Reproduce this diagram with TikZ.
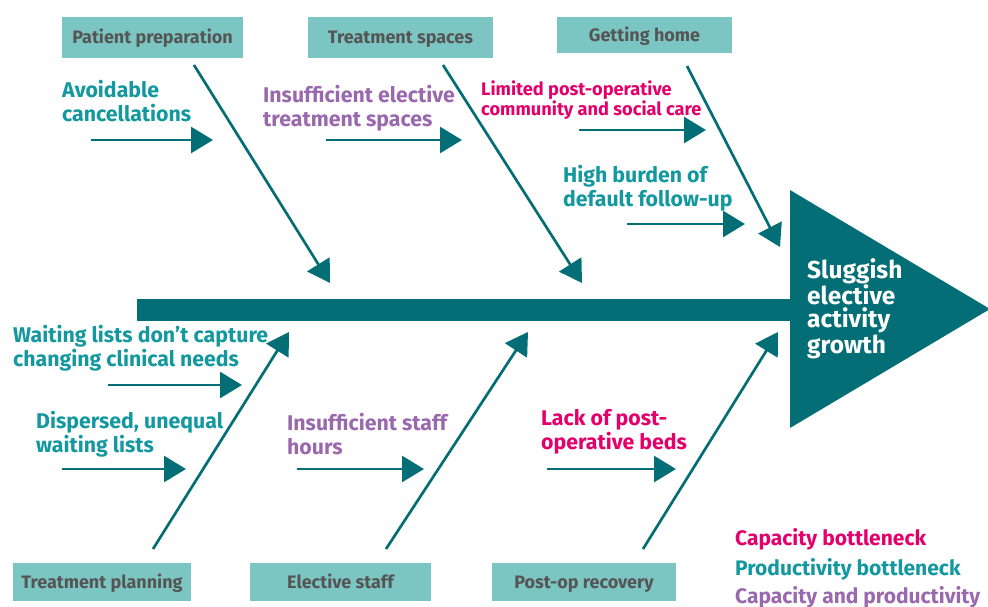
\documentclass[tikz,border=0pt]{standalone}
\usepackage{fontspec}
\setmainfont{Fira Sans}
\usetikzlibrary{arrows.meta}
\definecolor{dteal}{HTML}{036E75}
\definecolor{prod}{HTML}{12989E}
\definecolor{capc}{HTML}{E4006B}
\definecolor{both}{HTML}{9A68AD}
\definecolor{boxfill}{HTML}{7BC6C2}
\definecolor{boxtext}{HTML}{555555}
\begin{document}
\begin{tikzpicture}[x=1pt,y=-1pt,
 catbox/.style={fill=boxfill, inner sep=0, text=boxtext, text height=12.4pt, text depth=0pt, font=\fontsize{18}{20}\selectfont\bfseries},
 arr/.style={draw=dteal, line width=2.7pt, -{Triangle[length=22pt,width=26pt]}},
 lbl/.style={anchor=base west, inner sep=0, align=left, font=\fontsize{21.3}{24}\selectfont\bfseries},
 small/.style={font=\fontsize{18.2}{20}\selectfont\bfseries},
 leg/.style={anchor=base west, inner sep=0, font=\fontsize{21}{24}\selectfont\bfseries},
]
\useasboundingbox (0,0) rectangle (988,606);
% spine and head
\fill[dteal] (137,299) rectangle (792,321);
\fill[dteal] (790,190) -- (990,309) -- (790,428) -- cycle;
\node[anchor=base west, inner sep=0, align=left, text=white, font=\fontsize{24.5}{23.5}\selectfont\bfseries] (head) at (807,353) {Sluggish\\elective\\activity\\growth};
% category boxes
\node[catbox, minimum width=181, minimum height=41] (pp) at (152.5,37.5) {Patient preparation};
\node[catbox, minimum width=185, minimum height=41] (ts) at (400.5,37.5) {Treatment spaces};
\node[catbox, minimum width=175, minimum height=36] (gh) at (644.5,35) {Getting home};
\node[catbox, minimum width=178, minimum height=38] (tp) at (102,582) {Treatment planning};
\node[catbox, minimum width=181, minimum height=38] (es) at (340.5,582) {Elective staff};
\node[catbox, minimum width=184, minimum height=38] (pr) at (584,582) {Post-op recovery};
% bone coordinates
\coordinate (pps) at (194,65);  \coordinate (ppe) at (330,283);
\coordinate (tss) at (443,65);  \coordinate (tse) at (582,283);
\coordinate (ghs) at (687,66);  \coordinate (ghe) at (780,247);
\coordinate (tps) at (153,549); \coordinate (tpe) at (289,332);
\coordinate (ess) at (386,549); \coordinate (ese) at (528,332);
\coordinate (prs) at (643,549); \coordinate (pre) at (778,332);
\draw[arr] (pps) -- (ppe);
\draw[arr] (tss) -- (tse);
\draw[arr] (ghs) -- (ghe);
\draw[arr] (tps) -- (tpe);
\draw[arr] (ess) -- (ese);
\draw[arr] (prs) -- (pre);
% cause labels (anchor = baseline of last line)
\node[lbl, text=prod] (l1) at (62,121) {Avoidable\\cancellations};
\node[lbl, text=both] (l2) at (263,126) {Insufficient elective\\treatment spaces};
\node[lbl, text=capc, small] (l3) at (481,115) {Limited post-operative\\community and social care};
\node[lbl, text=prod] (l4) at (563,206) {High burden of\\default follow-up};
\node[lbl, text=prod] (l5) at (13,366) {Waiting lists don’t capture\\changing clinical needs};
\node[lbl, text=prod] (l6) at (36,452) {Dispersed, unequal\\waiting lists};
\node[lbl, text=both] (l7) at (287,454) {Insufficient staff\\hours};
\node[lbl, text=capc] (l8) at (541,449) {Lack of post-\\operative beds};
% horizontal arrows
\coordinate (a1s) at (91,140);  \coordinate (a1e) at (213,140);
\coordinate (a2s) at (326,140); \coordinate (a2e) at (462,140);
\coordinate (a3s) at (579,130); \coordinate (a3e) at (706,130);
\coordinate (a4s) at (627,224); \coordinate (a4e) at (745,224);
\coordinate (a5s) at (108,385); \coordinate (a5e) at (242,385);
\coordinate (a6s) at (62,469);  \coordinate (a6e) at (186,469);
\coordinate (a7s) at (297,469); \coordinate (a7e) at (424,469);
\coordinate (a8s) at (547,469); \coordinate (a8e) at (676,469);
\draw[arr] (a1s) -- (a1e);
\draw[arr] (a2s) -- (a2e);
\draw[arr] (a3s) -- (a3e);
\draw[arr] (a4s) -- (a4e);
\draw[arr] (a5s) -- (a5e);
\draw[arr] (a6s) -- (a6e);
\draw[arr] (a7s) -- (a7e);
\draw[arr] (a8s) -- (a8e);
% legend
\node[leg, text=capc] (lg1) at (735,545) {Capacity bottleneck};
\node[leg, text=prod] (lg2) at (735,575) {Productivity bottleneck};
\node[leg, text=both] (lg3) at (735,603) {Capacity and productivity};
\end{tikzpicture}
\end{document}
